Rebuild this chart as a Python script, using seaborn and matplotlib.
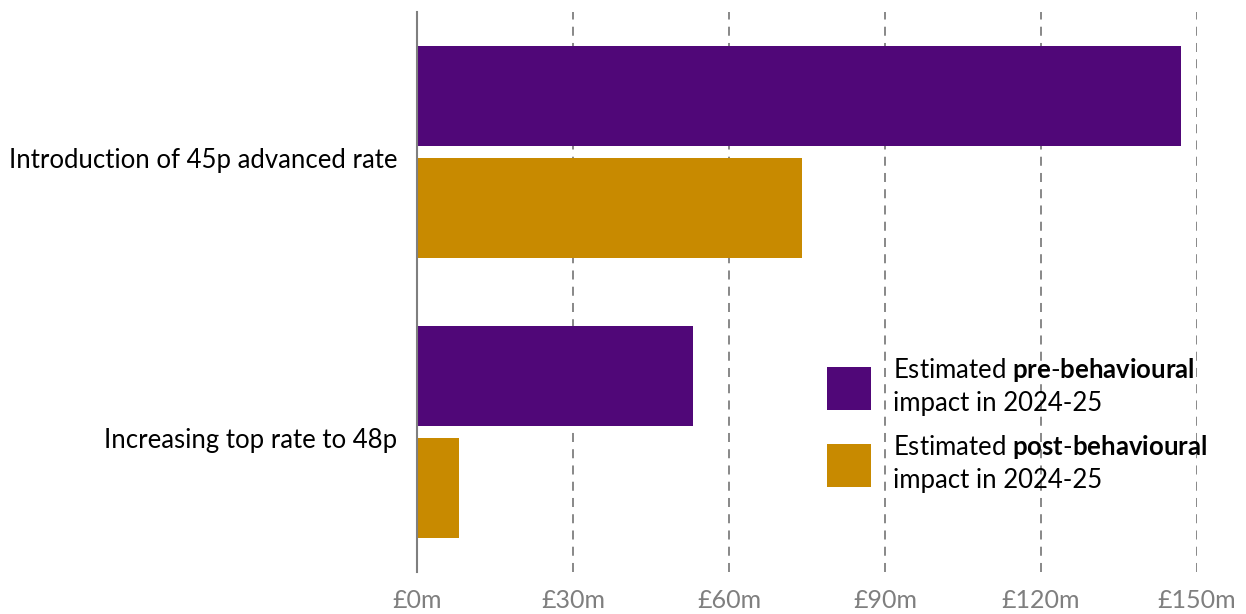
import matplotlib
matplotlib.use("Agg")
import matplotlib.pyplot as plt
import matplotlib.transforms as mtransforms
import seaborn as sns
import pandas as pd

categories = ["Introduction of 45p advanced rate", "Increasing top rate to 48p"]
pre_values = [147, 53]
post_values = [74, 8]
series_labels = [r"Estimated $\mathbf{pre}$-$\mathbf{behavioural}$" + "\nimpact in 2024-25",
                 r"Estimated $\mathbf{post}$-$\mathbf{behavioural}$" + "\nimpact in 2024-25"]
x_ticks = [0, 30, 60, 90, 120, 150]
x_tick_labels = ["£0m", "£30m", "£60m", "£90m", "£120m", "£150m"]
colors = ["#500778", "#C88A00"]

sns.set_theme(style="white")
plt.rcParams["font.family"] = ["Lato", "DejaVu Sans"]
plt.rcParams["mathtext.fontset"] = "custom"
plt.rcParams["mathtext.rm"] = "Lato"
plt.rcParams["mathtext.bf"] = "Lato:bold"
plt.rcParams["text.color"] = "black"

df = pd.DataFrame({
    "category": categories * 2,
    "value": pre_values + post_values,
    "series": [series_labels[0]] * len(categories) + [series_labels[1]] * len(categories),
})

fig = plt.figure(figsize=(12.46, 6.14), dpi=100)
ax = fig.add_axes([417/1246, 1 - 572/614, 780/1246, 560/614])

sns.barplot(data=df, x="value", y="category", hue="series", orient="h",
            palette=colors, gap=0.1, width=0.8, ax=ax, saturation=1,
            linewidth=0, legend=True)

ax.set_xlim(0, 150)
ax.set_ylim(1.5, -0.5)
ax.set_xticks(x_ticks)
ax.set_xticklabels(x_tick_labels, color="#7f7f7f", fontsize=18)
ax.tick_params(axis="x", length=0, pad=12)
ax.tick_params(axis="y", length=0, pad=14, labelsize=18.5, labelcolor="black")
ax.set_xlabel("")
ax.set_ylabel("")

offset = mtransforms.ScaledTranslation(0, -6/100, fig.dpi_scale_trans)
for lbl in ax.get_yticklabels():
    lbl.set_transform(lbl.get_transform() + offset)

for s in ["top", "right", "bottom"]:
    ax.spines[s].set_visible(False)
ax.spines["left"].set_color("#7f7f7f")
ax.spines["left"].set_linewidth(1.5)

for t in x_ticks[1:]:
    ax.axvline(t, color="#7f7f7f", linestyle=(0, (5, 4)), linewidth=1.3, zorder=0)

handles, labels = ax.get_legend_handles_labels()
leg = ax.legend(handles, labels, loc="upper left", bbox_to_anchor=(0.526, 0.385),
                frameon=False, fontsize=18.5, borderpad=0, handlelength=1.71,
                handleheight=2.2, handletextpad=0.86, labelspacing=0.66,
                borderaxespad=0)
for txt in leg.get_texts():
    txt.set_linespacing(1.35)
    txt.set_color("black")

fig.savefig("out.png", dpi=100)
